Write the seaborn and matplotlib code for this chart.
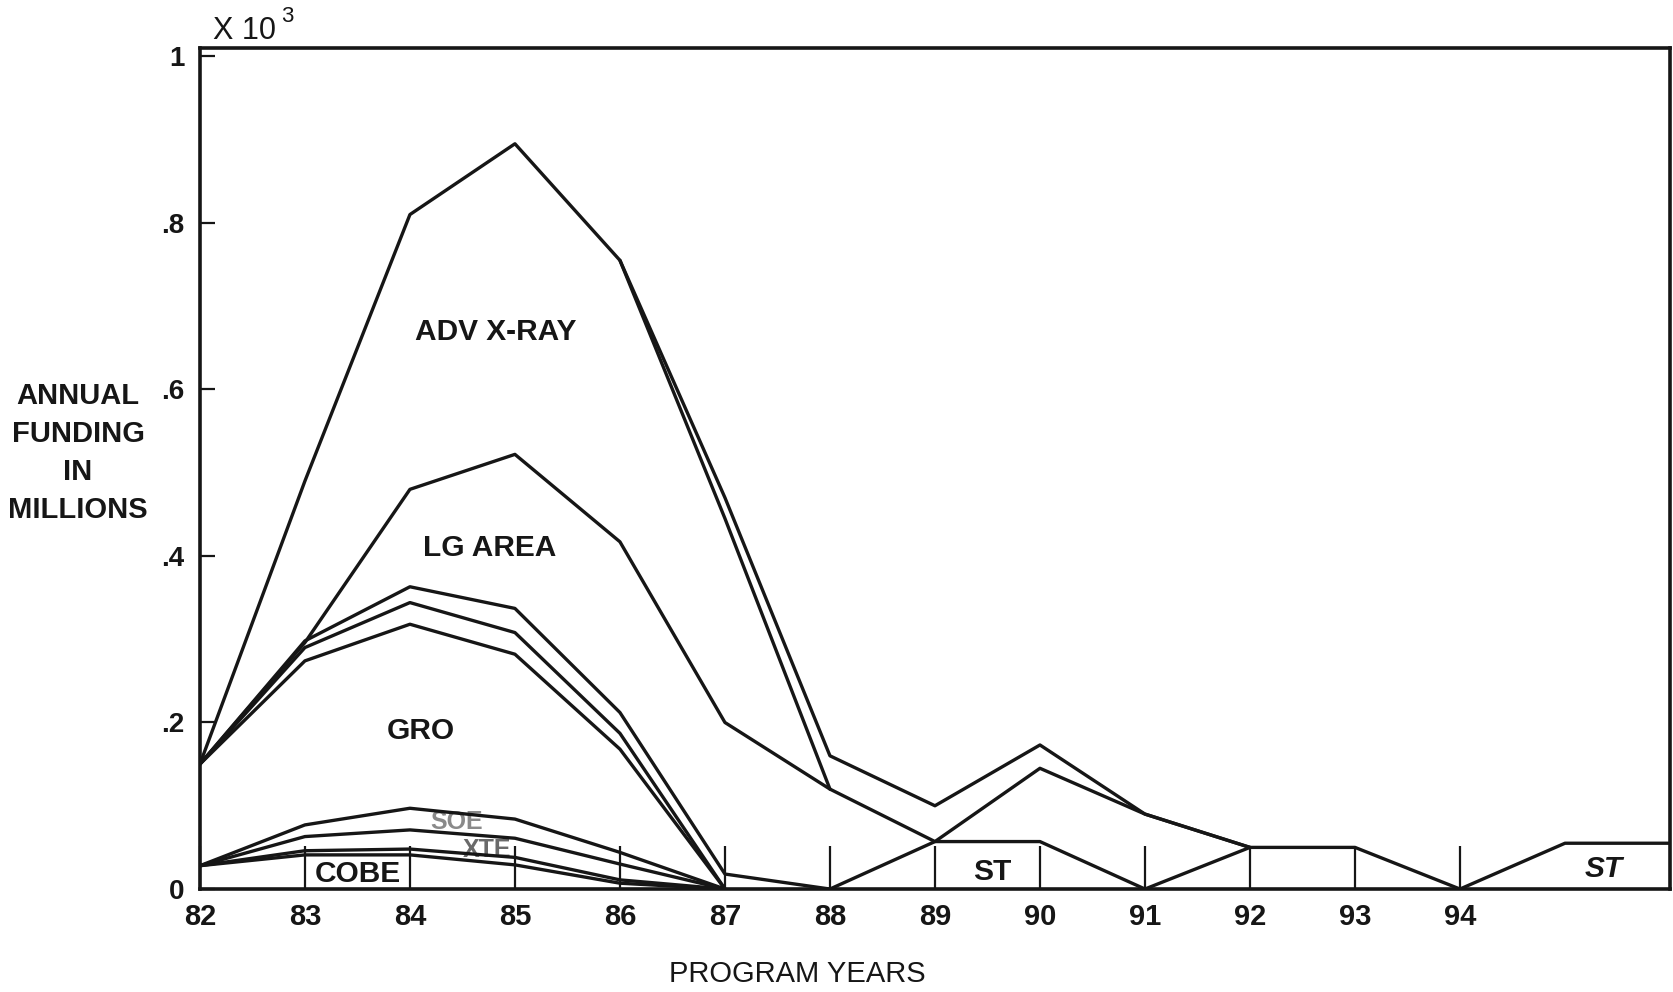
import matplotlib
matplotlib.use("Agg")
import matplotlib.pyplot as plt
import pandas as pd
import seaborn as sns

# Program years on the x axis
years = list(range(82, 97))
x_tick_years = list(range(82, 95))
y_ticks = [0, 0.2, 0.4, 0.6, 0.8, 1.0]
y_tick_labels = ["0", ".2", ".4", ".6", ".8", "1"]

# Cumulative funding boundaries (units of 10^3 millions)
total_top = [0.15, 0.49, 0.81, 0.895, 0.755, 0.47, 0.16, 0.10, 0.173, 0.09,
             0.05, 0.05, 0.0, 0.055, 0.055]

adv_xray_years = [86, 87, 88]
adv_xray_top = [0.755, 0.445, 0.12]

lg_area_years = list(range(82, 93))
lg_area_top = [0.15, 0.296, 0.48, 0.522, 0.417, 0.20, 0.12, 0.057, 0.145,
               0.09, 0.05]

st_years = list(range(82, 93))
st_top = [0.15, 0.298, 0.363, 0.337, 0.212, 0.018, 0.0, 0.057, 0.057, 0.0,
          0.05]

early_years = list(range(82, 88))
gro_upper = [0.15, 0.29, 0.344, 0.308, 0.187, 0.0]
gro_top = [0.15, 0.274, 0.318, 0.282, 0.168, 0.0]
soe_top = [0.028, 0.077, 0.097, 0.084, 0.044, 0.0]
xte_top = [0.028, 0.063, 0.071, 0.061, 0.030, 0.0]
cobe_upper = [0.028, 0.046, 0.048, 0.038, 0.011, 0.0]
cobe_top = [0.028, 0.041, 0.041, 0.029, 0.007, 0.0]

boundaries = [
    ("total", years, total_top),
    ("adv_xray", adv_xray_years, adv_xray_top),
    ("lg_area", lg_area_years, lg_area_top),
    ("st", st_years, st_top),
    ("gro_upper", early_years, gro_upper),
    ("gro", early_years, gro_top),
    ("soe", early_years, soe_top),
    ("xte", early_years, xte_top),
    ("cobe_upper", early_years, cobe_upper),
    ("cobe", early_years, cobe_top),
]

frames = [pd.DataFrame({"year": xs, "funding": ys, "boundary": name})
          for name, xs, ys in boundaries]
data = pd.concat(frames, ignore_index=True)

sns.set_theme(style="white")
plt.rcParams["font.family"] = ["Liberation Sans", "DejaVu Sans"]

INK = "#161616"

fig = plt.figure(figsize=(16.73, 9.92), dpi=100)
ax = fig.add_axes([0.1195, 0.1038, 0.8787, 0.8478])

sns.lineplot(data=data, x="year", y="funding", hue="boundary",
             palette=[INK] * len(boundaries), linewidth=2.4,
             legend=False, ax=ax, zorder=3)

ax.set_xlim(82, 96)
ax.set_ylim(0, 1.01)

ax.set_xticks(x_tick_years)
ax.set_xticklabels([str(y) for y in x_tick_years])
ax.set_yticks(y_ticks)
ax.set_yticklabels(y_tick_labels)
ax.tick_params(axis="x", bottom=True, direction="in", length=31, width=1.6,
               color=INK, pad=10, labelsize=21, labelcolor=INK)
ax.tick_params(axis="y", left=True, direction="in", length=11, width=1.6,
               color=INK, pad=11, labelsize=20, labelcolor=INK)
for lab in ax.get_xticklabels() + ax.get_yticklabels():
    lab.set_fontweight("bold")

ax.set_xlabel("")
ax.set_ylabel("")
for sp in ax.spines.values():
    sp.set_visible(True)
    sp.set_linewidth(2.6)
    sp.set_color(INK)

# Program labels
label_kw = dict(ha="center", va="center", fontsize=21.5, fontweight="bold",
                color=INK, zorder=2)
ax.text(84.82, 0.669, "ADV X-RAY", **label_kw)
ax.text(84.76, 0.409, "LG AREA", **label_kw)
ax.text(84.10, 0.190, "GRO", **label_kw)
ax.text(83.50, 0.018, "COBE", **label_kw)
ax.text(89.55, 0.020, "ST", **label_kw)
ax.text(95.37, 0.024, "ST", ha="center", va="center", fontsize=21.5,
        fontweight="bold", fontstyle="italic", color=INK, zorder=2)
ax.text(84.44, 0.080, "SOE", ha="center", va="center", fontsize=18,
        fontweight="bold", color="#8a8a8a", zorder=1)
ax.text(84.73, 0.047, "XTE", ha="center", va="center", fontsize=18,
        fontweight="bold", color="#6a6a6a", zorder=1)

W, H = 1673, 992
fig.text(78 / W, 1 - 453 / H, "ANNUAL\nFUNDING\nIN\nMILLIONS",
         ha="center", va="center", multialignment="center",
         fontsize=21, fontweight="bold", color=INK, linespacing=1.45)
fig.text(213 / W, 1 - 31 / H, "X 10", ha="left", va="center",
         fontsize=22, color=INK)
fig.text(281 / W, 1 - 17 / H, "3", ha="left", va="center",
         fontsize=16, color=INK)
fig.text(797 / W, 1 - 974 / H, "PROGRAM YEARS", ha="center", va="center",
         fontsize=21, color=INK)

fig.savefig("out.png", dpi=100, facecolor="white")
